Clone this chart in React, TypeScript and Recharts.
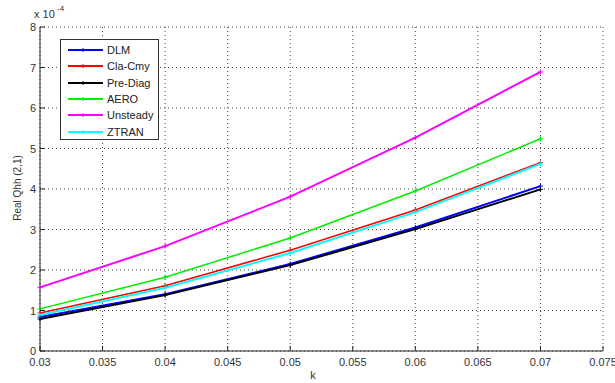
import React from 'react';
import { LineChart, Line, XAxis, YAxis, CartesianGrid } from 'recharts';

// Wave number k
const kValues = [0.03, 0.04, 0.05, 0.06, 0.07];

// Real part of Qhh(2,1), in units of 1e-4
const dlm = [0.84, 1.4, 2.15, 3.05, 4.07];
const claCmy = [0.94, 1.61, 2.49, 3.48, 4.65];
const preDiag = [0.79, 1.38, 2.12, 3.01, 3.99];
const aero = [1.04, 1.82, 2.79, 3.95, 5.24];
const unsteady = [1.57, 2.59, 3.81, 5.27, 6.89];
const ztran = [0.89, 1.56, 2.42, 3.43, 4.62];

const xTicks = [0.03, 0.035, 0.04, 0.045, 0.05, 0.055, 0.06, 0.065, 0.07, 0.075];
const yTicks = [0, 1, 2, 3, 4, 5, 6, 7, 8];

const seriesDefs = [
  { key: 'DLM', values: dlm, color: '#0000ff', width: 2 },
  { key: 'Cla-Cmy', values: claCmy, color: '#ff0000', width: 1.6 },
  { key: 'Pre-Diag', values: preDiag, color: '#000000', width: 2 },
  { key: 'AERO', values: aero, color: '#00ee00', width: 1.5 },
  { key: 'Unsteady', values: unsteady, color: '#ff00ff', width: 2 },
  { key: 'ZTRAN', values: ztran, color: '#00ffff', width: 2 },
];

const data = kValues.map((k, i) => {
  const row: Record<string, number> = { k };
  seriesDefs.forEach((s) => {
    row[s.key] = s.values[i];
  });
  return row;
});

const FONT = 'Arial, "Liberation Sans", Helvetica, sans-serif';
const TEXT = '#333';

const PlusDot = (props: any) => {
  const { cx, cy, stroke } = props;
  if (cx == null || cy == null) return null;
  return (
    <g>
      <line x1={cx - 2.5} y1={cy} x2={cx + 2.5} y2={cy} stroke={stroke} strokeWidth={1} />
      <line x1={cx} y1={cy - 2.5} x2={cx} y2={cy + 2.5} stroke={stroke} strokeWidth={1} />
    </g>
  );
};

// Ticks point into the plot area; labels sit outside
const XTick = (props: any) => {
  const { x, y, payload } = props;
  const label = Number(payload.value.toFixed(3)).toString();
  return (
    <g>
      <line x1={x} y1={y} x2={x} y2={y - 5} stroke="#222" strokeWidth={1} />
      <text x={x} y={y + 15} textAnchor="middle" fontSize={11} fill={TEXT} fontFamily={FONT}>
        {label}
      </text>
    </g>
  );
};

const YTick = (props: any) => {
  const { x, y, payload } = props;
  return (
    <g>
      <line x1={x} y1={y} x2={x + 5} y2={y} stroke="#222" strokeWidth={1} />
      <text x={x - 4} y={y + 4} textAnchor="end" fontSize={11} fill={TEXT} fontFamily={FONT}>
        {payload.value}
      </text>
    </g>
  );
};

const LegendBox = () => (
  <div
    style={{
      position: 'absolute',
      left: 60,
      top: 39,
      width: 99,
      height: 101,
      border: '1px solid #333',
      background: '#fff',
      boxSizing: 'border-box',
      fontFamily: FONT,
      fontSize: 11,
      color: '#222',
    }}
  >
    {seriesDefs.map((s, i) => (
      <div
        key={s.key}
        style={{ position: 'absolute', left: 6, top: 3 + i * 16.3, height: 14, display: 'flex', alignItems: 'center' }}
      >
        <svg width={37} height={14} style={{ display: 'block' }}>
          <line x1={1} y1={7} x2={36} y2={7} stroke={s.color} strokeWidth={2} />
          <line x1={16} y1={5} x2={16} y2={9} stroke={s.color} strokeWidth={1} />
        </svg>
        <span style={{ marginLeft: 3 }}>{s.key}</span>
      </div>
    ))}
  </div>
);

export default function App() {
  return (
    <div style={{ position: 'absolute', left: 0, top: 0, width: 615, height: 383, background: '#fff' }}>
      <LineChart
        width={615}
        height={383}
        data={data}
        margin={{ top: 27, right: 12, bottom: 0, left: 0 }}
      >
        <CartesianGrid stroke="#444" strokeDasharray="1 3" />
        <XAxis
          dataKey="k"
          type="number"
          domain={[0.03, 0.075]}
          ticks={xTicks}
          height={32}
          tickSize={0}
          tickMargin={0}
          tickLine={false}
          axisLine={{ stroke: '#222' }}
          tick={<XTick />}
          interval={0}
        />
        <YAxis
          type="number"
          domain={[0, 8]}
          ticks={yTicks}
          width={40}
          tickSize={0}
          tickMargin={0}
          tickLine={false}
          axisLine={{ stroke: '#222' }}
          tick={<YTick />}
          interval={0}
        />
        {seriesDefs.map((s) => (
          <Line
            key={s.key}
            dataKey={s.key}
            stroke={s.color}
            strokeWidth={s.width}
            dot={<PlusDot />}
            activeDot={false}
            isAnimationActive={false}
          />
        ))}
        <text x={34} y={18} fontSize={11} fill={TEXT} fontFamily={FONT}>
          x 10
        </text>
        <text x={57} y={11} fontSize={8} fill={TEXT} fontFamily={FONT}>
          -4
        </text>
        <text x={313} y={379} textAnchor="middle" fontSize={11} fill={TEXT} fontFamily={FONT}>
          k
        </text>
        <text
          x={21}
          y={188}
          textAnchor="middle"
          fontSize={10}
          fill={TEXT}
          fontFamily={FONT}
          transform="rotate(-90 21 188)"
        >
          Real Qhh (2,1)
        </text>
      </LineChart>
      <LegendBox />
    </div>
  );
}
